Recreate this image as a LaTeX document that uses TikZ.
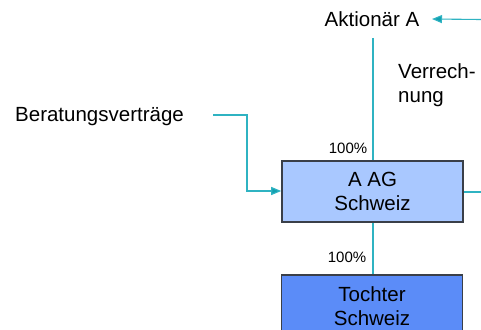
\documentclass[tikz,border=0pt]{standalone}
\usepackage{fontspec}
\setmainfont{Liberation Sans}
\usetikzlibrary{arrows.meta}
\definecolor{lineteal}{HTML}{2FB3C2}
\definecolor{tipteal}{HTML}{12A0B0}
\definecolor{boxlight}{HTML}{A9C8FF}
\definecolor{boxdark}{HTML}{5B8CF8}
\definecolor{boxedge}{HTML}{3A3F48}
\tikzset{
  x=1pt, y=-1pt,
  big/.style={font=\fontsize{20.5}{24}\selectfont, inner sep=0pt, align=center},
  small/.style={font=\fontsize{15}{18}\selectfont, inner sep=0pt},
  company/.style={draw=boxedge, line width=1.6pt, minimum width=181pt, inner sep=0pt,
    font=\fontsize{20.5}{24}\selectfont, align=center},
  conn/.style={draw=lineteal, line width=1.1pt},
  arr/.style={conn, -{Triangle[length=10pt,width=8pt,fill=tipteal]}},
}
\begin{document}
\begin{tikzpicture}
\useasboundingbox (0,0) rectangle (481,329);
% companies
\node[company, fill=boxlight, minimum height=61pt] (ag) at (372.5,191.5) {A AG\\Schweiz};
\node[company, fill=boxdark, minimum height=62pt, anchor=north] (toch) at (372,274) {Tochter\\Schweiz};
% texts
\node[big] (akt) at (372,19) {Aktionär A};
\node[big, align=left, anchor=north west] (verr) at (398,63) {Verrech-\\nung};
\node[big, anchor=west] (ber) at (15,117) {Beratungsverträge};
\node[small] (p1) at (348,148) {100\%};
\node[small] (p2) at (347,257) {100\%};
% connectors
\coordinate (rin) at (481,19.5);
\coordinate (vtop) at (373,38);
\coordinate (bstart) at (213,115);
\coordinate (rout) at (481,192);
\draw[arr] (rin) -- (akt.east -| 432,0);
\draw[conn] (vtop) -- (vtop |- ag.north);
\draw[conn] (ag.south -| 373,0) -- (toch.north -| 373,0);
\draw[conn] (ag.east |- rout) -- (rout);
\draw[arr] (bstart) -- (247,115) -- (247,191) -- (ag.west |- 0,191);
\end{tikzpicture}
\end{document}
